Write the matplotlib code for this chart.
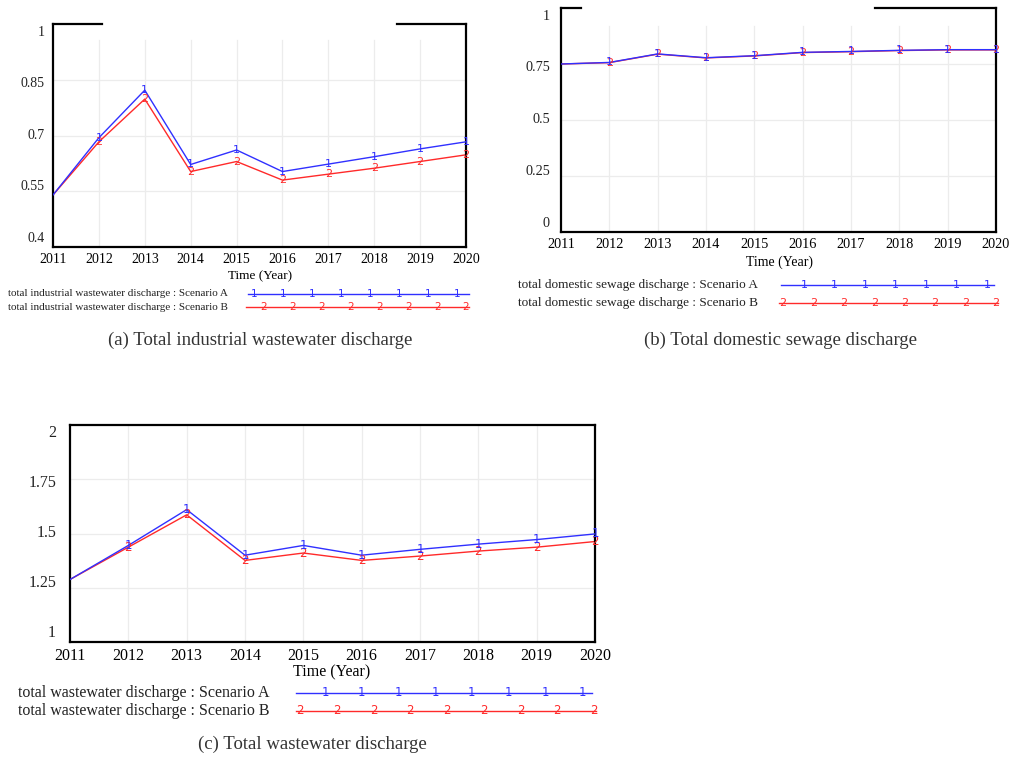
import matplotlib.pyplot as plt
from matplotlib.lines import Line2D
from matplotlib.transforms import offset_copy
import numpy as np

W, H = 1013, 757

years = list(range(2011, 2021))
year_labels = [str(y) for y in years]

# (a) total industrial wastewater discharge
ind_a = [0.540, 0.694, 0.822, 0.622, 0.661, 0.603, 0.623, 0.643, 0.664, 0.683]
ind_b = [0.540, 0.683, 0.798, 0.603, 0.630, 0.580, 0.596, 0.612, 0.630, 0.648]
ind_ticks = ["0.4", "0.55", "0.7", "0.85", "1"]

# (b) total domestic sewage discharge
dom_a = [0.750, 0.757, 0.795, 0.778, 0.787, 0.802, 0.806, 0.811, 0.814, 0.814]
dom_b = [0.750, 0.756, 0.794, 0.777, 0.786, 0.801, 0.805, 0.810, 0.813, 0.813]
dom_ticks = ["0", "0.25", "0.5", "0.75", "1"]

# (c) total wastewater discharge
tot_a = [1.288, 1.445, 1.610, 1.400, 1.445, 1.400, 1.427, 1.451, 1.472, 1.498]
tot_b = [1.288, 1.437, 1.586, 1.376, 1.410, 1.376, 1.396, 1.419, 1.437, 1.463]
tot_ticks = ["1", "1.25", "1.5", "1.75", "2"]

BLUE = "#3030ff"
RED = "#ff2a2a"
GRID = "#ececec"

plt.rcParams['font.family'] = ['Liberation Serif', 'DejaVu Serif']

fig = plt.figure(figsize=(W / 100, H / 100), dpi=100)


def fx(x):
    return x / W


def fy(y):
    return 1 - y / H


def panel(l, t, r, b, ya, yb, ymin, ymax, ticks, fs, ylab_off, vtop, top_segs, mfs):
    ax = fig.add_axes([fx(l), fy(b), (r - l) / W, (b - t) / H])
    ax.set_xlim(2011, 2020)
    ax.set_ylim(ymin, ymax)
    step = (ymax - ymin) / 4
    for i in range(1, 4):
        ax.axhline(ymin + i * step, color=GRID, lw=0.9, zorder=0)
    for yr in years[1:-1]:
        ax.axvline(yr, ymax=vtop, color=GRID, lw=0.9, zorder=0)

    ax.plot(years, yb, color=RED, lw=1.0, zorder=2)
    ax.plot(years, ya, color=BLUE, lw=1.0, zorder=3)
    for x, y in zip(years[1:], yb[1:]):
        ax.text(x, y, "2", color=RED, fontsize=mfs, family='DejaVu Sans',
                ha='center', va='center', zorder=4)
    for x, y in zip(years[1:], ya[1:]):
        ax.text(x, y, "1", color=BLUE, fontsize=mfs, family='DejaVu Sans',
                ha='center', va='center', zorder=5)

    ax.set_xticks(years)
    ax.set_xticklabels(year_labels, fontsize=fs)
    ax.tick_params(axis='x', length=0, pad=4.5)
    ax.set_yticks([])
    tr = offset_copy(ax.transAxes, fig=fig, x=-ylab_off, y=0, units='points')
    for i, lab in enumerate(ticks):
        ax.text(0, 0.04 + 0.231 * i, lab, transform=tr, ha='right',
                va='center', fontsize=fs, color='#222222')

    for s in ax.spines.values():
        s.set_linewidth(1.6)
    if top_segs:
        ax.spines['top'].set_visible(False)
        for x0, x1 in top_segs:
            ax.plot([(x0 - l) / (r - l), (x1 - l) / (r - l)], [1, 1],
                    transform=ax.transAxes, color='black', lw=1.6,
                    clip_on=False, solid_capstyle='projecting')
    return ax


def legend_rows(text_x, rows, fs, mfs):
    for label, color, num, y, x0, x1, marks in rows:
        fig.text(fx(text_x), fy(y), label, fontsize=fs, ha='left',
                 va='center', color='#222222')
        fig.add_artist(Line2D([fx(x0), fx(x1)], [fy(y), fy(y)],
                              color=color, lw=1.0, transform=fig.transFigure))
        for mx in marks:
            fig.text(fx(mx), fy(y), num, color=color, fontsize=mfs,
                     family='DejaVu Sans', ha='center', va='center')


# panel (a)
panel(53, 24, 466, 247, ind_a, ind_b, 0.4, 1.0, ind_ticks, 10, 6, 0.93,
      [(53, 102), (397, 466)], 8)
fig.text(fx(260), fy(276), "Time (Year)", fontsize=9.5, ha='center', va='center')
legend_rows(8, [
    ("total industrial wastewater discharge : Scenario A", BLUE, "1", 294,
     248, 469, np.linspace(254, 457, 8)),
    ("total industrial wastewater discharge : Scenario B", RED, "2", 307,
     246, 469, np.linspace(264, 466, 8)),
], 8, 7.5)
fig.text(fx(260), fy(340), "(a) Total industrial wastewater discharge",
         fontsize=13.5, ha='center', va='center', color='#333333')

# panel (b)
panel(561, 8, 996, 232, dom_a, dom_b, 0.0, 1.0, dom_ticks, 10.3, 8, 0.92,
      [(561, 581), (875, 996)], 8)
fig.text(fx(779), fy(262), "Time (Year)", fontsize=10, ha='center', va='center')
legend_rows(518, [
    ("total domestic sewage discharge : Scenario A", BLUE, "1", 285,
     781, 994, np.linspace(804, 987, 7)),
    ("total domestic sewage discharge : Scenario B", RED, "2", 303,
     779, 998, np.linspace(783, 996, 8)),
], 9.5, 8)
fig.text(fx(780), fy(340), "(b) Total domestic sewage discharge",
         fontsize=13.5, ha='center', va='center', color='#333333')

# panel (c)
panel(70, 425, 595, 642, tot_a, tot_b, 1.0, 2.0, tot_ticks, 11.5, 10, 1.0, None, 8.5)
fig.text(fx(332), fy(672), "Time (Year)", fontsize=11.5, ha='center', va='center')
legend_rows(18, [
    ("total wastewater discharge : Scenario A", BLUE, "1", 693,
     296, 592, np.linspace(325, 582, 8)),
    ("total wastewater discharge : Scenario B", RED, "2", 711,
     296, 596, np.linspace(300, 594, 9)),
], 11.5, 8.5)
fig.text(fx(312), fy(744), "(c) Total wastewater discharge",
         fontsize=13.5, ha='center', va='center', color='#333333')

fig.savefig("out.png", dpi=100)
